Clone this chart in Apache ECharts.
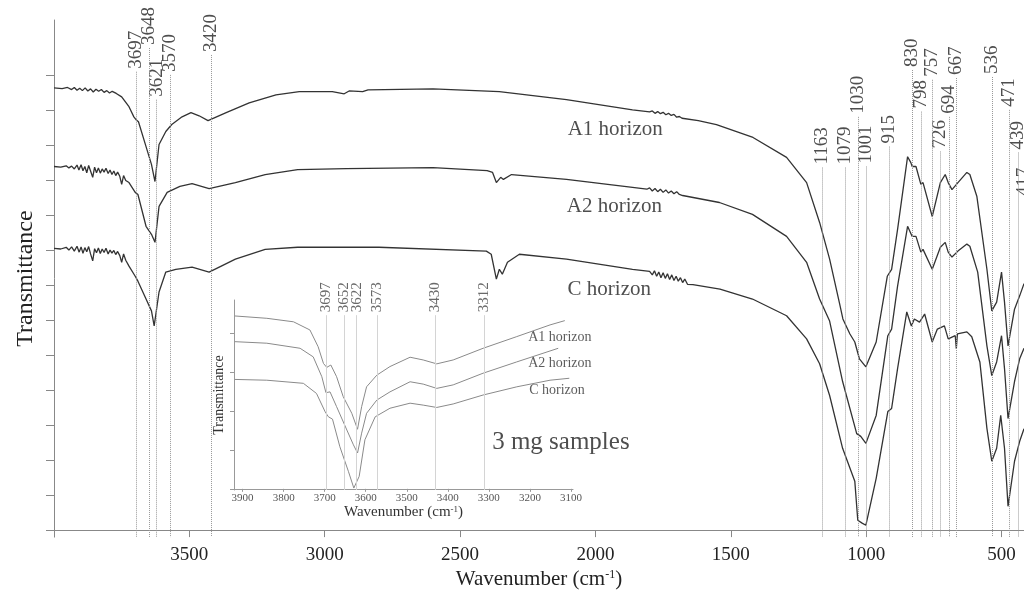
<!DOCTYPE html>
<html>
<head>
<meta charset="utf-8">
<script src="https://cdn.jsdelivr.net/npm/echarts@6.0.0/dist/echarts.min.js"></script>
<style>
html, body { margin: 0; padding: 0; background: #fff; }
#chart { width: 1024px; height: 595px; }
</style>
</head>
<body>
<div id="chart"></div>
<script>
// FTIR spectra, wavenumber (cm-1) vs transmittance (arbitrary units, curves offset)
var mainTicks = [500, 1000, 1500, 2000, 2500, 3000, 3500];

var a1Spectrum = [[4000,12.65],[3970,12.63],[3950,12.66],[3935,12.60],[3925,12.66],[3915,12.58],[3905,12.64],[3895,12.57],[3885,12.65],[3875,12.56],[3865,12.62],[3855,12.53],[3845,12.61],[3835,12.55],[3825,12.60],[3815,12.52],[3805,12.57],[3795,12.50],[3785,12.55],[3770,12.49],[3750,12.39],[3723,12.11],[3705,11.82],[3697,11.74],[3688,11.68],[3660,10.97],[3640,10.46],[3627,9.97],[3612,11.03],[3587,11.40],[3565,11.60],[3527,11.82],[3494,11.94],[3464,11.85],[3431,11.71],[3364,11.94],[3279,12.22],[3180,12.45],[3094,12.54],[2972,12.54],[2928,12.48],[2910,12.56],[2860,12.54],[2840,12.59],[2600,12.62],[2355,12.54],[2107,12.31],[1863,12.02],[1800,11.96],[1790,11.99],[1780,11.92],[1770,11.97],[1760,11.91],[1750,11.95],[1740,11.88],[1730,11.92],[1720,11.86],[1710,11.89],[1700,11.81],[1690,11.83],[1680,11.78],[1620,11.71],[1553,11.60],[1418,11.23],[1294,10.66],[1220,9.94],[1172,8.80],[1135,7.75],[1098,6.47],[1086,6.04],[1060,5.61],[1042,5.38],[1035,5.33],[1025,4.90],[1001,4.67],[963,5.38],[922,7.26],[906,7.46],[884,8.60],[847,10.68],[835,10.51],[830,10.40],[816,10.40],[798,9.89],[790,9.94],[756,8.97],[726,9.94],[708,10.17],[697,9.94],[683,9.74],[661,9.94],[628,10.23],[617,10.17],[591,9.54],[554,7.46],[536,6.27],[518,6.52],[500,7.38],[489,6.52],[476,5.27],[452,6.32],[433,6.70],[417,7.05]];

var a2Spectrum = [[4000,10.40],[3975,10.38],[3955,10.42],[3945,10.36],[3935,10.41],[3925,10.33],[3915,10.44],[3908,10.30],[3900,10.45],[3893,10.28],[3886,10.40],[3879,10.22],[3872,10.43],[3865,10.27],[3857,10.09],[3850,10.38],[3843,10.22],[3836,10.36],[3829,10.21],[3822,10.33],[3815,10.24],[3808,10.35],[3800,10.20],[3793,10.30],[3786,10.17],[3779,10.27],[3772,10.14],[3765,10.24],[3757,10.12],[3750,9.89],[3743,10.14],[3735,10.00],[3723,9.94],[3700,9.66],[3690,9.60],[3660,8.69],[3640,8.46],[3627,8.23],[3612,9.26],[3582,9.66],[3535,9.83],[3490,9.91],[3427,9.77],[3330,9.94],[3220,10.17],[3100,10.31],[2920,10.34],[2600,10.37],[2400,10.28],[2380,10.23],[2366,9.94],[2350,10.09],[2340,10.03],[2310,10.17],[2107,10.03],[1863,9.80],[1810,9.75],[1800,9.79],[1790,9.70],[1780,9.77],[1770,9.68],[1760,9.75],[1750,9.66],[1740,9.73],[1730,9.64],[1720,9.70],[1710,9.62],[1700,9.68],[1690,9.60],[1678,9.57],[1542,9.37],[1420,9.03],[1294,8.40],[1220,7.66],[1172,6.61],[1135,5.98],[1087,4.25],[1035,2.76],[1020,2.68],[1001,2.48],[963,3.28],[920,5.56],[906,5.75],[884,6.98],[847,8.69],[830,8.40],[816,8.40],[798,7.95],[790,8.03],[756,7.46],[726,8.09],[708,8.23],[697,7.95],[683,7.81],[661,7.98],[628,8.18],[617,8.12],[588,7.38],[554,5.27],[536,4.42],[518,4.81],[500,5.56],[489,4.62],[476,3.19],[452,4.25],[433,4.90],[417,5.20]];

var cSpectrum = [[4000,8.06],[3975,8.04],[3955,8.09],[3945,8.01],[3935,8.10],[3925,7.98],[3915,8.12],[3907,7.95],[3900,8.10],[3893,7.92],[3886,8.08],[3879,7.96],[3872,8.11],[3865,7.90],[3857,7.70],[3850,8.05],[3843,7.93],[3836,8.07],[3829,7.91],[3822,8.04],[3815,7.94],[3808,8.06],[3800,7.90],[3793,8.01],[3786,7.92],[3779,8.00],[3772,7.88],[3765,7.97],[3757,7.85],[3750,7.66],[3743,7.90],[3735,7.72],[3723,7.55],[3700,7.26],[3690,7.12],[3660,6.61],[3640,6.27],[3630,5.84],[3612,6.81],[3587,7.38],[3550,7.46],[3490,7.52],[3427,7.38],[3330,7.75],[3220,8.03],[3100,8.09],[2800,8.09],[2403,7.98],[2385,7.89],[2366,7.18],[2355,7.46],[2344,7.32],[2325,7.66],[2281,7.89],[2107,7.75],[1863,7.46],[1800,7.40],[1790,7.30],[1782,7.42],[1774,7.26],[1766,7.38],[1758,7.22],[1750,7.36],[1742,7.20],[1734,7.33],[1726,7.17],[1718,7.30],[1710,7.14],[1702,7.26],[1694,7.12],[1686,7.22],[1678,7.08],[1670,7.18],[1660,7.03],[1640,7.02],[1540,6.89],[1420,6.61],[1294,6.13],[1220,5.47],[1172,4.76],[1135,3.85],[1087,2.34],[1042,1.40],[1031,0.28],[1015,0.20],[1001,0.14],[963,1.48],[920,3.39],[906,3.48],[884,4.62],[850,6.24],[833,5.84],[822,6.04],[803,5.95],[784,6.18],[756,5.38],[737,5.75],[711,5.84],[697,5.47],[671,5.56],[667,5.19],[663,5.61],[628,5.67],[610,5.53],[580,4.81],[554,2.91],[536,1.97],[518,2.34],[503,3.28],[489,2.34],[476,0.68],[452,1.97],[433,2.54],[417,2.90]];

var mainBands = [3697, 3648, 3621, 3570, 3420, 1163, 1079, 1030, 1001, 915, 830, 798, 757, 726, 694, 667, 536, 471, 439, 417];

// inset: 3 mg samples, OH stretching region
var insetTicks = [3100, 3200, 3300, 3400, 3500, 3600, 3700, 3800, 3900];

var insetA1 = [[3919,4.44],[3841,4.38],[3776,4.29],[3736,4.08],[3716,3.65],[3703,3.22],[3695,3.12],[3685,3.18],[3671,2.88],[3655,2.37],[3634,1.94],[3620,1.53],[3610,2.11],[3598,2.62],[3573,2.92],[3541,3.14],[3492,3.38],[3460,3.31],[3427,3.21],[3387,3.31],[3314,3.61],[3232,3.91],[3151,4.21],[3115,4.32]];

var insetA2 = [[3919,3.78],[3841,3.74],[3760,3.61],[3728,3.39],[3707,2.88],[3697,2.47],[3687,2.49],[3671,2.11],[3646,1.51],[3630,1.13],[3620,0.92],[3610,1.43],[3598,1.94],[3573,2.28],[3541,2.49],[3492,2.75],[3460,2.69],[3427,2.58],[3387,2.67],[3314,2.97],[3232,3.26],[3131,3.61]];

var insetC = [[3919,2.81],[3841,2.79],[3752,2.71],[3720,2.45],[3699,1.98],[3691,1.85],[3681,1.79],[3663,1.08],[3642,0.44],[3629,0.02],[3616,0.32],[3602,1.26],[3577,1.85],[3541,2.07],[3492,2.20],[3460,2.15],[3427,2.09],[3387,2.18],[3314,2.41],[3232,2.62],[3151,2.79],[3104,2.84]];

var insetBands = [3697, 3652, 3622, 3573, 3430, 3312];

var horizons = ['A1 horizon', 'A2 horizon', 'C horizon'];

// ---- layout ----
var serif = 'Liberation Serif';
var mainBandTop = [13.11, 13.79, 12.31, 13.02, 13.59, 10.37, 10.37, 11.82, 10.40, 10.97, 13.16, 11.97, 12.88, 10.83, 11.82, 12.93, 12.96, 12.02, 10.80, 9.46];
var insetBandTop = 4.46;

var chart = echarts.init(document.getElementById('chart'));

function plain(v) { return String(v); }

function spectrum(data, axis, color, width) {
    return {
        type: 'line', data: data, xAxisIndex: axis, yAxisIndex: axis,
        showSymbol: false, silent: true, animation: false,
        lineStyle: { color: color, width: width }
    };
}

function bandSeries(bands, tops, bottom, axis, lineStyle, font, color) {
    return {
        type: 'scatter', xAxisIndex: axis, yAxisIndex: axis, symbolSize: 0,
        silent: true, animation: false, clip: false,
        data: bands.map(function (b, i) { return [b, Array.isArray(tops) ? tops[i] : tops]; }),
        label: {
            show: true, position: 'top', distance: 3, rotate: 90,
            align: 'left', verticalAlign: 'middle',
            fontFamily: serif, fontSize: font, color: color,
            formatter: function (p) { return String(p.value[0]); }
        },
        markLine: {
            silent: true, symbol: 'none', animation: false,
            label: { show: false },
            lineStyle: lineStyle,
            data: bands.map(function (b, i) {
                var t = Array.isArray(tops) ? tops[i] : tops;
                return [{ coord: [b, t] }, { coord: [b, bottom] }];
            })
        }
    };
}

function textSeries(axis, items, font, color, align) {
    return {
        type: 'scatter', xAxisIndex: axis, yAxisIndex: axis, symbolSize: 0,
        silent: true, animation: false, clip: false,
        data: items.map(function (it) { return { name: it[0], value: it[1] }; }),
        label: {
            show: true, position: 'inside', align: align || 'center',
            fontFamily: serif, fontSize: font, color: color,
            formatter: '{b}'
        }
    };
}

chart.setOption({
    animation: false,
    textStyle: { fontFamily: serif },
    grid: [
        { left: 54, right: 0, top: 20, bottom: 56 },
        { left: 234, right: 451, top: 300, bottom: 105 }
    ],
    xAxis: [{
        type: 'value', gridIndex: 0, inverse: true, min: 417, max: 4000,
        splitLine: { show: false },
        axisLine: { lineStyle: { color: '#888', width: 1 } },
        axisTick: { customValues: mainTicks, length: 7, lineStyle: { color: '#888' } },
        axisLabel: { customValues: mainTicks, formatter: plain, fontSize: 19, color: '#222', margin: 8 },
        name: 'Wavenumber (cm{sup|-1})', nameLocation: 'middle', nameGap: 28,
        nameTextStyle: { fontSize: 21, color: '#222', rich: { sup: { fontSize: 12, verticalAlign: 'top', color: '#222' } } }
    }, {
        type: 'value', gridIndex: 1, inverse: true, min: 3095, max: 3921,
        splitLine: { show: false },
        axisLine: { lineStyle: { color: '#999', width: 1 } },
        axisTick: { customValues: insetTicks, length: 3, lineStyle: { color: '#999' } },
        axisLabel: { customValues: insetTicks, formatter: plain, fontSize: 11, color: '#555', margin: 3 },
        name: 'Wavenumber (cm{sup|-1})', nameLocation: 'middle', nameGap: 15,
        nameTextStyle: { fontSize: 15, color: '#333', rich: { sup: { fontSize: 9, verticalAlign: 'top', color: '#333' } } }
    }],
    yAxis: [{
        type: 'value', gridIndex: 0, min: -0.2, max: 14.59,
        splitLine: { show: false },
        axisLine: { show: true, lineStyle: { color: '#888', width: 1 } },
        axisTick: { show: true, customValues: [0,1,2,3,4,5,6,7,8,9,10,11,12,13], length: 8, lineStyle: { color: '#888' } },
        axisLabel: { show: false },
        name: 'Transmittance', nameLocation: 'middle', nameGap: 16,
        nameTextStyle: { fontSize: 24, color: '#222' }
    }, {
        type: 'value', gridIndex: 1, min: -0.03, max: 4.85,
        splitLine: { show: false },
        axisLine: { show: true, lineStyle: { color: '#999', width: 1 } },
        axisTick: { show: true, customValues: [0,1,2,3,4], length: 4, lineStyle: { color: '#999' } },
        axisLabel: { show: false },
        name: 'Transmittance', nameLocation: 'middle', nameGap: 8,
        nameTextStyle: { fontSize: 14, color: '#333' }
    }],
    series: [
        bandSeries(mainBands, mainBandTop, -0.2, 0, { type: 'dotted', color: '#999', width: 1 }, 19, '#222'),
        spectrum(a1Spectrum, 0, '#333', 1.3),
        spectrum(a2Spectrum, 0, '#333', 1.3),
        spectrum(cSpectrum, 0, '#333', 1.3),
        textSeries(0, [[horizons[0], [1927, 11.45]], [horizons[1], [1930, 9.26]], [horizons[2], [1949, 6.89]]], 21, '#222'),
        bandSeries(insetBands, insetBandTop, -0.03, 1, { type: 'solid', color: '#d4d4d4', width: 1 }, 15, '#444'),
        spectrum(insetA1, 1, '#8a8a8a', 1),
        spectrum(insetA2, 1, '#8a8a8a', 1),
        spectrum(insetC, 1, '#8a8a8a', 1),
        textSeries(1, [[horizons[0], [3127, 3.90]], [horizons[1], [3127, 3.23]], [horizons[2], [3134, 2.54]]], 14, '#333'),
        textSeries(1, [['3 mg samples', [3292, 1.18]]], 25, '#222', 'left')
    ]
});
</script>
</body>
</html>
